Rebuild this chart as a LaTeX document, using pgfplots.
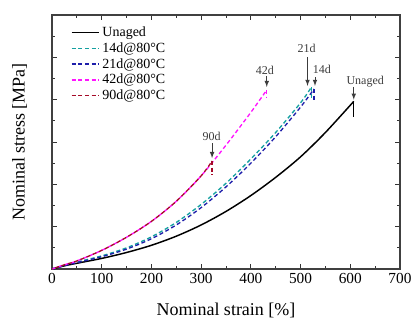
\documentclass[border=0pt]{standalone}
\usepackage{pgfplots}
\pgfplotsset{compat=1.18}
\usepackage{fontspec}
\setmainfont{Liberation Serif}
\definecolor{cteal}{RGB}{20,160,160}
\definecolor{cblue}{RGB}{30,30,170}
\definecolor{cmag}{RGB}{255,20,255}
\definecolor{cred}{RGB}{165,10,40}
\definecolor{annot}{RGB}{60,60,60}
\begin{document}
\begin{tikzpicture}
\useasboundingbox (-39pt,-40.5pt) rectangle (270.75pt,201.75pt);
\begin{axis}[
  scale only axis, width=261pt, height=190.5pt,
  xmin=0, xmax=700, ymin=0, ymax=12,
  xtick={0,100,...,700}, minor xtick={50,150,...,650},
  ytick={0,2,...,12}, minor ytick={1,3,...,11}, yticklabels={},
  tick align=inside, major tick length=4pt, minor tick length=2.5pt,
  axis line style={line width=0.8pt, black!75},
  every tick/.style={black!80, line width=0.6pt},
  /pgf/number format/assume math mode=true,
  ticklabel style={font=\fontsize{11.5}{13}\selectfont},
  xlabel={Nominal strain [\%]}, ylabel={Nominal stress [MPa]},
  every axis x label/.style={at={(axis description cs:0.5,-0.165)}, anchor=center, font=\fontsize{13.5}{15}\selectfont},
  every axis y label/.style={at={(axis description cs:-0.093,0.5)}, anchor=center, rotate=90, font=\fontsize{13.5}{15}\selectfont},
  legend style={draw=none, fill=none, at={(axis description cs:0.05,0.97)}, anchor=north west,
    font=\fontsize{10.5}{12}\selectfont, row sep=-1pt, inner sep=1pt},
  legend cell align=left,
  legend image code/.code={\draw[#1] (0cm,0cm) -- (0.72cm,0cm);},
  clip=false,
]
\addplot[black, line width=1.1pt, smooth] coordinates {
(0,0) (25,0.15) (50,0.27) (100,0.5) (150,0.78) (200,1.12) (250,1.55) (300,2.08) (350,2.72) (400,3.47) (450,4.33) (500,5.3) (550,6.45) (607,7.92)};
\addlegendentry{Unaged}
\addplot[cteal, line width=1pt, dash pattern=on 3pt off 2pt, smooth] coordinates {
(0,0) (25,0.18) (50,0.33) (100,0.62) (150,1.0) (200,1.52) (250,2.2) (300,3.05) (350,4.05) (400,5.2) (450,6.45) (500,7.85) (522,8.6)};
\addlegendentry{14d@80°C}
\addplot[cblue, line width=1pt, dash pattern=on 3pt off 2pt, smooth] coordinates {
(0,0) (25,0.16) (50,0.3) (100,0.58) (150,0.94) (200,1.43) (250,2.08) (300,2.9) (350,3.88) (400,5.0) (450,6.25) (500,7.65) (527,8.5)};
\addlegendentry{21d@80°C}
\addplot[cmag, line width=1pt, dash pattern=on 3pt off 2pt, smooth] coordinates {
(0,0) (25,0.2) (50,0.38) (100,0.88) (150,1.5) (200,2.25) (250,3.2) (300,4.4) (350,5.85) (400,7.4) (432,8.46)};
\addlegendentry{42d@80°C}
\addplot[cred, line width=1pt, dash pattern=on 3pt off 2pt, dash phase=2.5pt, smooth, forget plot] coordinates {
(0,0) (25,0.2) (50,0.38) (100,0.88) (150,1.5) (200,2.25) (250,3.2) (300,4.4) (322,5.1)};
\addlegendimage{cred, line width=1pt, dash pattern=on 3pt off 2pt}
\addlegendentry{90d@80°C}
% fracture drops
\addplot[black, line width=1.1pt, forget plot] coordinates {(607,7.92) (607,7.2)};
\addplot[cteal, line width=1pt, dash pattern=on 3pt off 2pt, forget plot] coordinates {(522,8.6) (522,8.0)};
\addplot[cblue, line width=1pt, dash pattern=on 3pt off 2pt, forget plot] coordinates {(527,8.5) (527,7.9)};
\addplot[cmag, line width=1pt, dash pattern=on 3pt off 2pt, forget plot] coordinates {(432,8.46) (432,8.1)};
\addplot[cred, line width=1pt, dash pattern=on 3pt off 2pt, forget plot] coordinates {(322,5.1) (322,4.44)};
% annotations
\begin{scope}[annot, font=\fontsize{9}{10}\selectfont]
\draw[-latex, line width=0.6pt] (axis cs:607,8.6) -- (axis cs:607,8.0);
\node at (axis cs:630,8.85) {Unaged};
\draw[-latex, line width=0.6pt] (axis cs:529,9.07) -- (axis cs:529,8.65);
\node at (axis cs:543,9.43) {14d};
\draw[-latex, line width=0.6pt] (axis cs:514,10.0) -- (axis cs:514,8.65);
\node at (axis cs:512,10.43) {21d};
\draw[-latex, line width=0.6pt] (axis cs:432,9.12) -- (axis cs:432,8.6);
\node at (axis cs:428,9.4) {42d};
\draw[-latex, line width=0.6pt] (axis cs:322,5.95) -- (axis cs:322,5.24);
\node at (axis cs:321,6.25) {90d};
\end{scope}
\end{axis}
\end{tikzpicture}
\end{document}
